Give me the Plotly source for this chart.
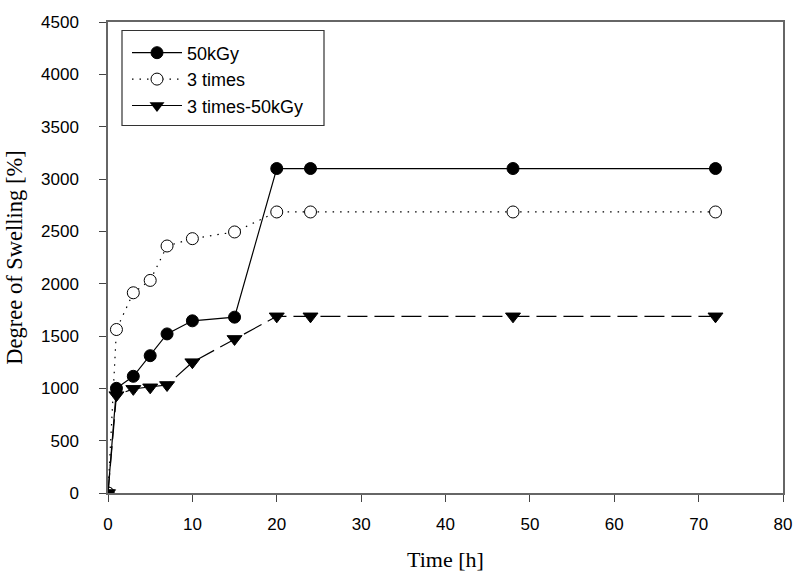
import plotly.graph_objects as go

time_h = [0, 1, 3, 5, 7, 10, 15, 20, 24, 48, 72]
kgy50 = [0, 1000, 1115, 1312, 1520, 1645, 1680, 3100, 3100, 3100, 3100]
times3 = [0, 1562, 1913, 2031, 2360, 2430, 2494, 2685, 2685, 2685, 2685]
times3_kgy50 = [0, 935, 995, 1010, 1032, 1250, 1472, 1688, 1688, 1688, 1688]

x_ticks = [0, 10, 20, 30, 40, 50, 60, 70, 80]
y_ticks = [0, 500, 1000, 1500, 2000, 2500, 3000, 3500, 4000, 4500]

fig = go.Figure()
fig.add_trace(go.Scatter(
    x=time_h, y=kgy50, name="50kGy", mode="lines+markers",
    line=dict(color="black", width=1.2),
    marker=dict(symbol="circle", size=12, color="black", line=dict(color="black", width=1)),
    legendrank=1))
fig.add_trace(go.Scatter(
    x=time_h, y=times3, name="3 times", mode="lines+markers",
    line=dict(color="black", width=1.2, dash="1.5px,6px"),
    marker=dict(symbol="circle", size=12, color="white", line=dict(color="black", width=1)),
    legendrank=2))
fig.add_trace(go.Scatter(
    x=time_h, y=times3_kgy50, name="3 times-50kGy", mode="lines+markers",
    line=dict(color="black", width=1.2, dash="20px,7px"),
    marker=dict(symbol="triangle-down", size=13, color="black", line=dict(color="black", width=1)),
    showlegend=False))
# legend-only entry (reference legend shows a solid line for this series)
fig.add_trace(go.Scatter(
    x=[None], y=[None], name="3 times-50kGy", mode="lines+markers",
    line=dict(color="black", width=1.2),
    marker=dict(symbol="triangle-down", size=13, color="black"),
    legendrank=3))

axis_common = dict(
    showgrid=False, zeroline=False, showline=True, linecolor="#666", linewidth=1.5,
    mirror=True, ticks="outside", ticklen=7, tickcolor="#444", tickwidth=1,
    tickfont=dict(family="Liberation Sans, Arial", size=17, color="black"),
)

# plot area in pixels: x 108..783, y 22..493
fig.update_layout(
    width=796, height=572,
    margin=dict(l=108, r=13, t=22, b=79, autoexpand=False),
    paper_bgcolor="white", plot_bgcolor="white",
    xaxis=dict(range=[0, 80], tickvals=x_ticks, ticklabelstandoff=8,
               title=dict(text="Time [h]", font=dict(family="Liberation Serif, Times New Roman", size=22, color="black"), standoff=20),
               **axis_common),
    yaxis=dict(range=[0, 4500], tickvals=y_ticks, ticklabelstandoff=17,
               title=dict(text="Degree of Swelling [%]", font=dict(family="Liberation Serif, Times New Roman", size=22.5, color="black"), standoff=12),
               **axis_common),
    legend=dict(x=(127 - 108) / 675, y=1 - (12.5 / 471), xanchor="left", yanchor="top",
                borderwidth=0, bgcolor="rgba(0,0,0,0)",
                font=dict(family="Liberation Sans, Arial", size=18, color="black"),
                tracegroupgap=0, itemwidth=50),
    shapes=[dict(type="rect", xref="paper", yref="paper",
                 x0=(122 - 108) / 675, x1=(324 - 108) / 675,
                 y0=1 - (125.5 - 22) / 471, y1=1 - (30.5 - 22) / 471,
                 line=dict(color="#333", width=1.2), fillcolor="rgba(0,0,0,0)", layer="above")],
    showlegend=True,
)

fig.write_html("out.html")
